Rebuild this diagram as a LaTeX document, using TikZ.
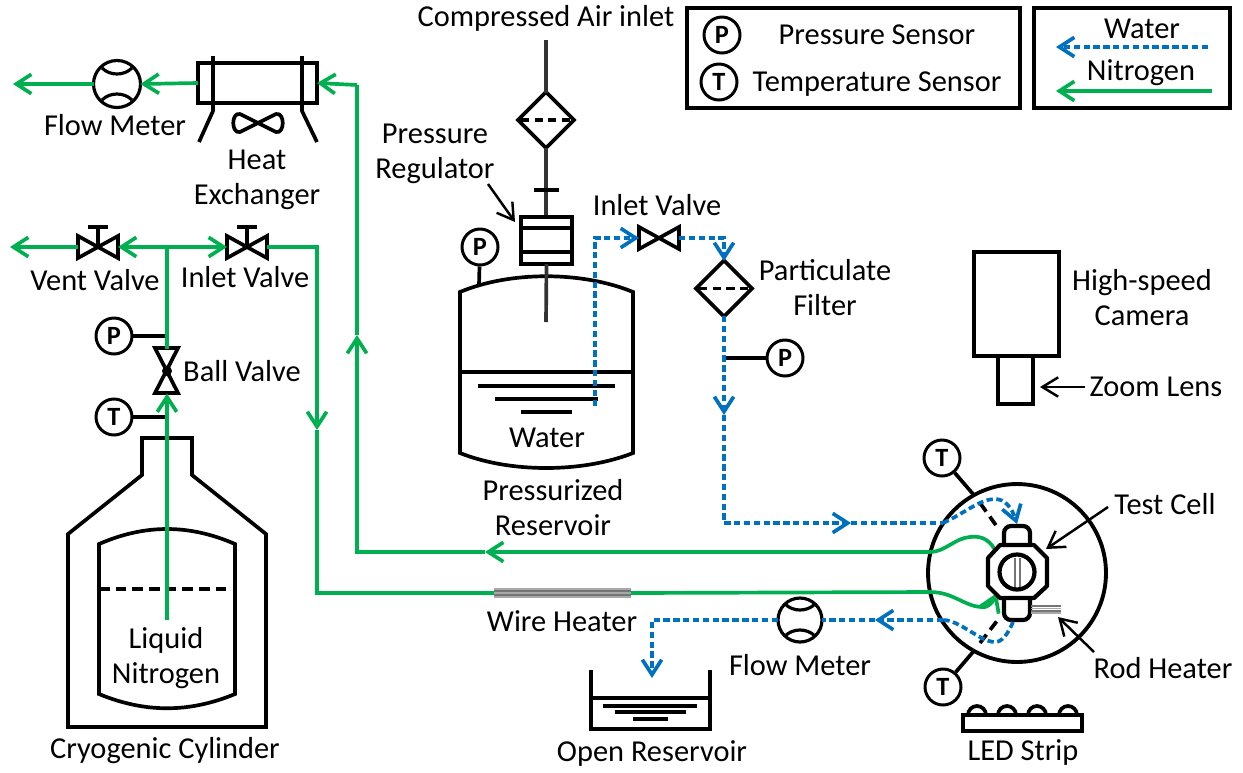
\documentclass[tikz,border=0pt]{standalone}
\usepackage{fontspec}
\setmainfont{Carlito}
\usetikzlibrary{positioning,calc,arrows.meta}
\definecolor{rigGreenLine}{HTML}{00B050}
\definecolor{rigBlueLine}{HTML}{0070C0}
\definecolor{rigDarkLine}{HTML}{333333}
\definecolor{rigGreyLine}{HTML}{A8A8A8}
\definecolor{rigMidLine}{HTML}{757575}
\tikzset{
  open tip/.style={-{Straight Barb[length=8.5pt, width=11pt]}},
  nitro/.style={rigGreenLine, line width=2.1pt},
  water/.style={rigBlueLine, line width=2.1pt, dash pattern=on 3.6pt off 2pt},
  kit/.style={black, line width=2.1pt},
  leader/.style={black, line width=1.4pt, -{Straight Barb[length=9pt, width=11pt]}},
  lab/.style={font=\fontsize{17.3}{19.9}\selectfont, align=center, inner sep=0pt},
  sensor/.style={circle, draw=black, line width=1.7pt, minimum size=.72cm, inner sep=0pt,
    font=\fontsize{15}{15}\selectfont\bfseries},
  meter/.style={circle, draw=black, line width=1.8pt, inner sep=0pt, outer sep=0pt},
  valve/.style={minimum width=.8cm, minimum height=.44cm, inner sep=0pt, outer sep=0pt},
  ballvalve/.style={minimum width=.46cm, minimum height=.9cm, inner sep=0pt, outer sep=0pt},
  filter/.style={minimum width=1.12cm, minimum height=1.1cm, inner sep=0pt, outer sep=0pt},
  pics/bowtie/.style={code={
    \draw[kit, line join=miter] (-20,-11) -- (20,11) -- (20,-11) -- (-20,11) -- cycle;
  }},
  pics/handle/.style={code={
    \draw[kit] (0,0) -- (0,-20) (-10,-20) -- (10,-20);
  }},
  pics/meterarcs/.style={code={
    \draw[kit, line width=1.8pt] (-15,-16) .. controls (-7,-8) and (7,-8) .. (15,-16);
    \draw[kit, line width=1.8pt] (-15,16) .. controls (-7,8) and (7,8) .. (15,16);
  }},
  pics/strainer/.style={code={
    \draw[kit, line join=miter] (0,-28) -- (28,0) -- (0,28) -- (-28,0) -- cycle;
    \draw[kit, dash pattern=on 4.6pt off 3.2pt] (-25,0) -- (26,0);
  }},
}

\begin{document}
\begin{tikzpicture}[x=0.02cm, y=-0.02cm]
\useasboundingbox (0,0) rectangle (1243,772);

% Legends
\draw[kit] (687,8) rectangle (1020,108);
\draw[kit] (1034,8) rectangle (1230,108);
\node[sensor] (legP) at (722,35) {P};
\node[sensor] (legT) at (719,82) {T};
\node[lab] (legPText) at (877,35) {Pressure Sensor};
\node[lab] (legTText) at (877,84) {Temperature Sensor};
\node[lab] (legWater) at (1142,29) {Water};
\node[lab] (legNitro) at (1141,73) {Nitrogen};
\coordinate (legWa) at (1208,47);
\coordinate (legWb) at (1056,47);
\coordinate (legNa) at (1212,91);
\coordinate (legNb) at (1056,91);
\draw[water, open tip] (legWa) -- (legWb);
\draw[nitro, open tip] (legNa) -- (legNb);

% Cryogenic cylinder
\draw[kit, line join=miter] (68,727) -- (68,534) -- (142,475) -- (142,438) -- (192,438)
  -- (192,475) -- (266,534) -- (266,727) -- cycle;
\draw[kit] (99,544) .. controls (145,524) and (189,524) .. (235,544) -- (235,694)
  .. controls (189,713) and (145,713) .. (99,694) -- cycle;
\draw[kit, dash pattern=on 6pt off 3.5pt] (99,589) -- (235,589);
\node[lab] (lnLab) at (166,658) {Liquid\\Nitrogen};
\node[lab] (cylLab) at (165,751) {Cryogenic Cylinder};

% Ball valve and sensors on the cylinder line
\node[ballvalve] (ballV) at (167,371) {};
\draw[kit, line join=miter] (155,348) -- (178,348) -- (155,393) -- (178,393) -- cycle;
\node[circle, fill=black, inner sep=0pt, minimum size=.2cm] (ballDot) at (ballV) {};
\node[lab] (ballLab) at (242,371) {Ball Valve};
\node[sensor] (pCyl) at (114,336) {P};
\node[sensor] (tCyl) at (114,417) {T};
\coordinate (pCylEnd) at (167,336);
\coordinate (tCylEnd) at (167,417);
\draw[kit] (pCyl) -- (pCylEnd);
\draw[kit] (tCyl) -- (tCylEnd);

% Vent and inlet valves
\node[valve] (ventV) at (98,247) {};
\node[valve] (inN) at (247,247) {};
\foreach \v in {ventV, inN} {
  \pic at (\v) {bowtie};
  \pic at (\v) {handle};
}
\node[lab] (ventLab) at (95,280) {Vent Valve};
\node[lab] (inNLab) at (245,277) {Inlet Valve};

% Nitrogen line
\coordinate (dip) at (167,620);
\coordinate (tee) at (167,247);
\coordinate (ventEnd) at (10,247);
\coordinate (bendA) at (317,247);
\coordinate (midA) at (317,430);
\coordinate (bendB) at (317,593);
\draw[nitro, open tip] (dip) -- (ballV.south);
\draw[nitro] (ballV.north) -- (tee);
\draw[nitro, open tip] (tee) -- (ventV.east);
\draw[nitro, open tip] (tee) -- (inN.west);
\draw[nitro, open tip] (ventV.west) -- (ventEnd);
\draw[nitro, open tip] (inN.east) -- (bendA) -- (midA);
\draw[nitro] (midA) -- (bendB) -- (495,593);

% Wire heater
\foreach \y/\c in {589/rigGreyLine, 591/rigMidLine, 593/rigGreyLine, 595/rigMidLine, 597/rigGreyLine} {
  \draw[\c, line width=.6pt] (494,\y) -- (631,\y);
}
\node[lab] (wireLab) at (562,621) {Wire Heater};

% Test cell chamber
\node[circle, draw=black, line width=2.2pt, minimum size=3.56cm, inner sep=0pt, outer sep=0pt] (chamber) at (1017,573) {};
\draw[nitro] (631,593) -- (930,592);
\draw[nitro, open tip] (930,592) .. controls (955,592) and (965,608) .. (985,607)
  .. controls (990,606) and (994,600) .. (997,593);
\coordinate (retStart) at (995,550);
\coordinate (midB) at (485,552);
\coordinate (bendC) at (357,552);
\coordinate (midC) at (357,335);
\coordinate (bendD) at (357,85);
\draw[nitro] (retStart) .. controls (988,537) and (978,536) .. (970,537)
  .. controls (955,538) and (945,552) .. (930,552);
\draw[nitro, open tip] (930,552) -- (midB);
\draw[nitro, open tip] (midB) -- (bendC) -- (midC);
\draw[nitro] (midC) -- (bendD);

% Test cell
\draw[kit, rounded corners=4pt, line width=2.4pt] (1004,545) -- (1004,526) -- (1030,526) -- (1030,545);
\draw[kit, rounded corners=4pt, line width=2.4pt] (1004,600) -- (1004,620) -- (1030,620) -- (1030,600);
\draw[kit, line width=2.4pt, line join=round] (1000,545) -- (1034,545) -- (1047,558) -- (1047,586) -- (1034,598)
  -- (1000,598) -- (988,586) -- (988,558) -- cycle;
\node[circle, draw=black, line width=2.4pt, minimum size=.7cm, inner sep=0pt, outer sep=0pt] (window) at (1017,572) {};
\draw[rigMidLine, line width=.6pt] (1015,558) -- (1015,587) (1020,558) -- (1020,587);
\foreach \y/\c in {606/rigMidLine, 608.5/rigGreyLine, 611/rigMidLine, 613/rigGreyLine} {
  \draw[\c, line width=.6pt] (1031,\y) -- (1061,\y);
}
\node[lab] (cellLab) at (1165,504) {Test Cell};
\node[lab] (rodLab) at (1163,668) {Rod Heater};
\coordinate (cellA) at (1108,507);
\coordinate (cellB) at (1046,549);
\coordinate (rodA) at (1094,652);
\coordinate (rodB) at (1058,617);
\draw[leader] (cellA) -- (cellB);
\draw[leader] (rodA) -- (rodB);

% Thermocouples into the cell
\node[sensor] (tTop) at (942,458) {T};
\node[sensor] (tBot) at (943,687) {T};
\coordinate (tTopIn) at (973,494);
\coordinate (tBotIn) at (973,652);
\draw[kit] (tTop) -- (tTopIn);
\draw[kit] (tBot) -- (tBotIn);
\draw[kit, dash pattern=on 6pt off 3.5pt] (980,503) -- (998,528);
\draw[kit, dash pattern=on 6pt off 3.5pt] (980,643) -- (1000,617);

% Reservoir
\draw[kit] (460,292) .. controls (510,271) and (582,271) .. (633,292) -- (633,453)
  .. controls (582,473) and (510,473) .. (460,453) -- cycle;
\draw[kit, line width=1.8pt] (460,372) -- (633,372);
\draw[kit] (478,386) -- (615,386);
\draw[kit] (495,399) -- (598,399);
\draw[kit] (521,412) -- (572,412);
\node[lab] (waterLab) at (547,438) {Water};
\node[lab] (resLab) at (553,508) {Pressurized\\Reservoir};
\node[sensor] (pRes) at (480,247) {P};
\coordinate (pResIn) at (479,285);
\draw[kit] (pRes) -- (pResIn);

% Air supply
\node[lab] (airLab) at (546,18) {Compressed Air inlet};
\node[filter] (airF) at (546,120) {};
\pic at (airF) {strainer};
\coordinate (airTop) at (546,40);
\coordinate (regTop) at (546,217);
\draw[rigDarkLine, line width=2.1pt] (airTop) -- (airF.north);
\draw[rigDarkLine, line width=2.1pt] (airF.south) -- (regTop);
\draw[kit] (534,190) -- (559,190);
\node[minimum width=1.02cm, minimum height=.94cm, draw=black, line width=2.1pt, inner sep=0pt, outer sep=0pt] (reg) at (546.5,240.5) {};
\draw[kit] (521,228) -- (572,228) (521,252) -- (572,252);
\coordinate (stemEnd) at (546,322);
\draw[rigDarkLine, line width=2.1pt] (reg.south) -- (stemEnd);
\node[lab] (regLab) at (435,154) {Pressure\\Regulator};
\coordinate (regA) at (488,184);
\coordinate (regB) at (515,222);
\draw[leader] (regA) -- (regB);

% Water feed
\node[valve] (inW) at (659,238) {};
\pic at (inW) {bowtie};
\node[lab] (inWLab) at (657,205) {Inlet Valve};
\node[filter] (partF) at (724,288.5) {};
\pic at (partF) {strainer};
\node[lab] (partLab) at (825,288) {Particulate\\Filter};
\node[sensor] (pFeed) at (785,358) {P};
\coordinate (pFeedIn) at (724,358);
\draw[kit] (pFeed) -- (pFeedIn);
\coordinate (feedStart) at (595,406);
\coordinate (feedBendA) at (595,238);
\coordinate (feedBendB) at (724,238);
\coordinate (feedMidA) at (724,415);
\coordinate (feedBendC) at (724,523);
\coordinate (feedMidB) at (851,523);
\coordinate (feedEdge) at (943,523);
\coordinate (cellIn) at (1017,524);
\draw[water, open tip] (feedStart) -- (feedBendA) -- (inW.west);
\draw[water, open tip] (inW.east) -- (feedBendB) -- (partF.north);
\draw[water, open tip] (partF.south) -- (feedMidA);
\draw[water, open tip] (feedMidA) -- (feedBendC) -- (feedMidB);
\draw[water] (feedMidB) -- (feedEdge);
\draw[water, open tip] (feedEdge) .. controls (965,513) and (980,499) .. (995,499)
  .. controls (1005,499) and (1012,508) .. (cellIn);

% Water return
\node[meter, minimum size=.88cm] (flowW) at (800,620) {};
\pic at (flowW) {meterarcs};
\node[lab] (flowWLab) at (800,665) {Flow Meter};
\coordinate (cellOut) at (1013,622);
\coordinate (retEdge) at (943,620);
\coordinate (retMid) at (875,620);
\coordinate (retBend) at (652,620);
\coordinate (retEnd) at (652,678);
\draw[water] (cellOut) .. controls (1008,634) and (1002,642) .. (995,642)
  .. controls (980,642) and (960,620) .. (retEdge);
\draw[water, open tip] (retEdge) -- (retMid);
\draw[water] (retMid) -- (flowW.east);
\draw[water, open tip] (flowW.west) -- (retBend) -- (retEnd);

% Open reservoir
\draw[kit, line join=miter] (591,670) -- (591,729) -- (710,729) -- (710,670);
\draw[kit] (591,698) -- (710,698);
\draw[kit] (603,706) -- (697,706);
\draw[kit] (615,712) -- (686,712);
\draw[kit] (633,719) -- (668,719);
\node[lab] (openLab) at (652,753) {Open Reservoir};

% Heat exchanger and upper flow meter
\node[minimum width=2.38cm, minimum height=.8cm, draw=black, line width=2.1pt, inner sep=0pt, outer sep=0pt] (hex) at (257.5,83) {};
\draw[kit, line join=round] (213,56) -- (213,111) -- (199,142);
\draw[kit, line join=round] (302,56) -- (302,111) -- (317,142);
\draw[kit, line join=round] (258,123) -- (240,114) .. controls (231,112) and (231,134) .. (240,132) -- (276,114)
  .. controls (285,112) and (285,134) .. (276,132) -- cycle;
\node[lab] (hexLab) at (257,180) {Heat\\Exchanger};
\node[meter, minimum size=.94cm] (flowN) at (117,84) {};
\pic at (flowN) {meterarcs};
\node[lab] (flowNLab) at (115,125) {Flow Meter};
\coordinate (flowNEnd) at (13,84);
\draw[nitro, open tip] (bendD) -- (hex.east);
\draw[nitro, open tip] (hex.west) -- (flowN.east);
\draw[nitro, open tip] (flowN.west) -- (flowNEnd);

% Camera
\node[minimum width=1.7cm, minimum height=2.08cm, draw=black, line width=2.4pt, inner sep=0pt, outer sep=0pt] (camera) at (1016.5,304) {};
\node[minimum width=.7cm, minimum height=.96cm, draw=black, line width=2.4pt, inner sep=0pt, outer sep=0pt] (lens) at (1015.5,380) {};
\node[lab] (camLab) at (1142,298) {High-speed\\Camera};
\node[lab] (lensLab) at (1156,387) {Zoom Lens};
\coordinate (lensA) at (1085,387);
\coordinate (lensB) at (1040,387);
\draw[leader] (lensA) -- (lensB);

% LED strip
\foreach \x in {977,1007,1037,1068} {
  \draw[kit] (\x-9,715) arc[start angle=180, end angle=0, radius=.18cm];
}
\draw[kit, fill=white] (963,715) rectangle (1082,731);
\node[lab] (ledLab) at (1023,752) {LED Strip};

\end{tikzpicture}
\end{document}
